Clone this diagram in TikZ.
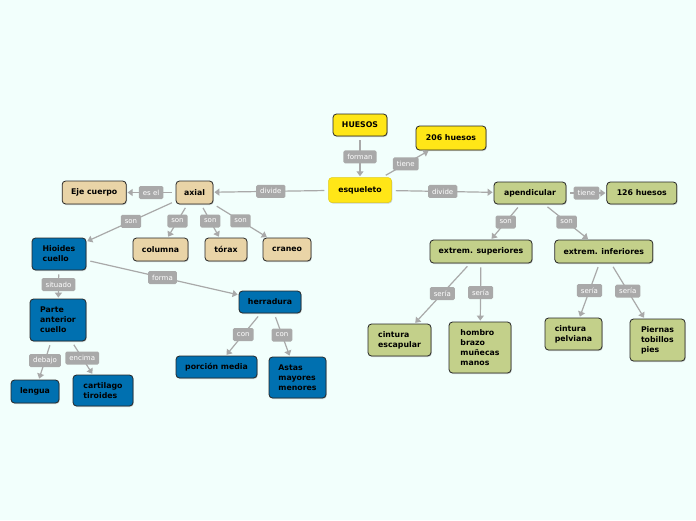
\documentclass[tikz,border=0pt]{standalone}
\usepackage{xcolor}
\usepackage{tikz}
\usepackage{fontspec}
\setmainfont{DejaVu Sans}
\usetikzlibrary{arrows.meta,positioning,shadows}

\definecolor{fondo}{HTML}{F2FFFC}
\definecolor{amarillo}{HTML}{FFE617}
\definecolor{arena}{HTML}{E9D4A7}
\definecolor{azul}{HTML}{0070B0}
\definecolor{verde}{HTML}{C3D08A}
\definecolor{gris}{HTML}{A9A9A9}

\begin{document}
\begin{tikzpicture}[
    x=1pt, y=-1pt,
    box/.style={
        draw=black!85,
        line width=0.8pt,
        rounded corners=3.5pt,
        align=left,
        inner sep=0pt,
        font=\bfseries\fontsize{7.8}{10}\selectfont,
        drop shadow={shadow xshift=0.8pt, shadow yshift=-1pt, opacity=0.35}
    },
    amarillobox/.style={box, fill=amarillo},
    arenabox/.style={box, fill=arena},
    azulbox/.style={box, fill=azul},
    verdebox/.style={box, fill=verde},
    dims/.style 2 args={minimum width=#1pt, minimum height=#2pt},
    link/.style={
        draw=gris,
        line width=1.2pt,
        -{Triangle[length=5pt,width=7pt]},
        shorten <=4pt,
        shorten >=1pt
    },
    tag/.style={
        fill=gris,
        text=white,
        rounded corners=1.5pt,
        font=\fontsize{7}{8}\selectfont,
        inner xsep=4pt,
        inner ysep=0pt,
        minimum height=13pt
    }
]
\useasboundingbox[fill=fondo] (0,0) rectangle (696,520);

\node[amarillobox, dims={54}{22}] (huesos) at (360,125) {HUESOS};
\node[amarillobox, dims={70}{24}] (h206) at (451,138) {206 huesos};
\node[amarillobox, dims={63}{25}, draw=amarillo!88!black, line width=0.5pt] (esqueleto) at (360,190) {esqueleto};

\node[arenabox, dims={37}{23}] (axial) at (194.5,192.5) {axial};
\node[arenabox, dims={64}{23}, left=49pt of axial] (eje) {Eje cuerpo};
\node[arenabox, dims={55}{23}] (columna) at (160.5,249.5) {columna};
\node[arenabox, dims={42}{23}] (torax) at (226,249.5) {tórax};
\node[arenabox, dims={48}{23}] (craneo) at (287,249.5) {craneo};

\node[azulbox, dims={54}{32}] (hioides) at (59,254) {Hioides\\cuello};
\node[azulbox, dims={56}{42}] (parte) at (58,320) {Parte\\anterior\\cuello};
\node[azulbox, dims={48}{23}] (lengua) at (35,391.5) {lengua};
\node[azulbox, dims={60}{31}] (cartilago) at (103,390.5) {cartilago\\tiroides};
\node[azulbox, dims={62}{22}] (herradura) at (270,302) {herradura};
\node[azulbox, dims={81}{22}] (porcion) at (216.5,367) {porción media};
\node[azulbox, dims={57}{41}] (astas) at (297.5,377.5) {Astas\\mayores\\menores};

\node[verdebox, dims={72}{22}] (apendicular) at (530,193) {apendicular};
\node[verdebox, dims={70}{22}, right=40pt of apendicular] (h126) {126 huesos};
\node[verdebox, dims={102}{23}] (superiores) at (481,251.5) {extrem. superiores};
\node[verdebox, dims={98}{23}, right=22pt of superiores] (inferiores) {extrem. inferiores};
\node[verdebox, dims={63}{32}] (escapular) at (399.5,340) {cintura\\escapular};
\node[verdebox, dims={62}{51}] (hombro) at (480,347.5) {hombro\\brazo\\muñecas\\manos};
\node[verdebox, dims={57}{32}] (pelviana) at (573.5,334) {cintura\\pelviana};
\node[verdebox, dims={55}{42}] (piernas) at (657.5,340) {Piernas\\tobillos\\pies};

\draw[link] (huesos) -- node[tag] {forman} (esqueleto);
\draw[link] (esqueleto) -- node[tag] {tiene} (h206);
\draw[link] (esqueleto) -- node[tag] {divide} (axial);
\draw[link] (esqueleto) -- node[tag] {divide} (apendicular);

\draw[link] (axial) -- node[tag] {es el} (eje);
\draw[link] (axial) -- node[tag] {son} (hioides);
\draw[link] (axial) -- node[tag] {son} (columna);
\draw[link] (axial) -- node[tag] {son} (torax);
\draw[link] (axial) -- node[tag] {son} (craneo);

\draw[link] (hioides) -- node[tag] {situado} (parte);
\draw[link] (hioides) -- node[tag] {forma} (herradura);
\draw[link] (parte) -- node[tag] {debajo} (lengua);
\draw[link] (parte) -- node[tag] {encima} (cartilago);
\draw[link] (herradura) -- node[tag] {con} (porcion);
\draw[link] (herradura) -- node[tag] {con} (astas);

\draw[link] (apendicular) -- node[tag] {tiene} (h126);
\draw[link] (apendicular) -- node[tag] {son} (superiores);
\draw[link] (apendicular) -- node[tag] {son} (inferiores);
\draw[link] (superiores) -- node[tag] {sería} (escapular);
\draw[link] (superiores) -- node[tag] {sería} (hombro);
\draw[link] (inferiores) -- node[tag] {sería} (pelviana);
\draw[link] (inferiores) -- node[tag] {sería} (piernas);
\end{tikzpicture}
\end{document}
